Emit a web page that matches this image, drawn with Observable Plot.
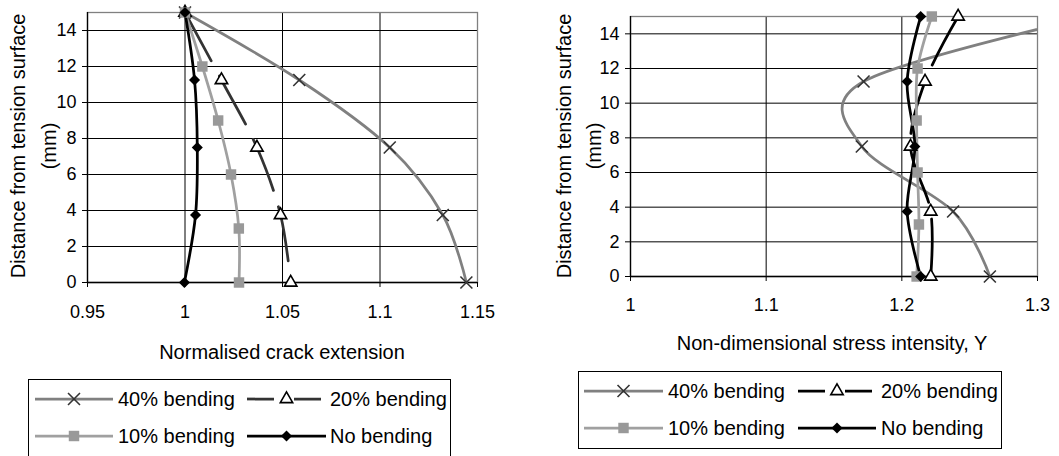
<!DOCTYPE html>
<html><head><meta charset="utf-8">
<script src="https://cdn.jsdelivr.net/npm/d3@7"></script>
<script src="https://cdn.jsdelivr.net/npm/@observablehq/plot@0.6"></script>
<style>
body{margin:0;background:#fff;}
#wrap{position:relative;width:1059px;height:456px;overflow:hidden;font-family:"Liberation Sans",Arial,sans-serif;color:#000;}
.panel{position:absolute;top:0;}
.lbl{position:absolute;white-space:nowrap;font-size:20px;line-height:1;}
.rot{transform:translate(-50%,-50%) rotate(-90deg);}
.ctr{transform:translate(-50%,-50%);}
#legend{position:absolute;left:0;top:0;}
</style></head><body><div id="wrap"></div>
<script>
// ---------- data ----------
const seriesNames = ["40% bending", "20% bending", "10% bending", "No bending"];
const depthCoarse = [15, 11.25, 7.5, 3.75, 0];      // used by 40%, 20%, no bending
const depthFine = [15, 12, 9, 6, 3, 0];             // used by 10%

// Left chart: normalised crack extension
const crack40 = [1.0, 1.0586, 1.105, 1.1322, 1.1443];
const crack20 = [1.0, 1.0187, 1.0369, 1.049, 1.0542];
const crack10 = [1.0, 1.0089, 1.017, 1.0236, 1.0276, 1.0277];
const crack0  = [1.0, 1.0049, 1.0063, 1.0054, 0.9997];

// Right chart: non-dimensional stress intensity Y
const stress40 = [1.34, 1.1718, 1.1705, 1.2378, 1.2649];
const stress20 = [1.2415, 1.2171, 1.2064, 1.2213, 1.2213];
const stress10 = [1.2221, 1.2116, 1.2109, 1.2116, 1.2126, 1.2109];
const stress0  = [1.2139, 1.2039, 1.2096, 1.2039, 1.2139];

const leftXTicks = [0.95, 1, 1.05, 1.1, 1.15];
const rightXTicks = [1, 1.1, 1.2, 1.3];
const yTicks = [0, 2, 4, 6, 8, 10, 12, 14];
const leftXTitle = "Normalised crack extension";
const rightXTitle = "Non-dimensional stress intensity, Y";
const yTitleLine1 = "Distance from tension surface";
const yTitleLine2 = "(mm)";

// ---------- helpers ----------
const rows = (xs, ys) => xs.map((x, i) => ({x, y: ys[i]}));
const wrap = document.getElementById("wrap");

function styleFor(name, panel) {
  switch (name) {
    case "40% bending": return {stroke: "#808080", dash: null, symbol: "times", mFill: "none", mStroke: "#333", r: 5.5};
    case "20% bending": return {stroke: panel === "left" ? "#333333" : "#000", dash: "55,17", symbol: "triangle", mFill: "#fff", mStroke: "#000", r: 4.6};
    case "10% bending": return {stroke: "#a0a0a0", dash: null, symbol: "square", mFill: "#999", mStroke: "none", r: 5.9};
    default: return {stroke: "#000", dash: null, symbol: "diamond2", mFill: "#000", mStroke: "none", r: 5};
  }
}

function seriesMarks(list, panel, xDomain) {
  const marks = [];
  for (const [name, data] of list) {
    const s = styleFor(name, panel);
    marks.push(Plot.line(data, {x: "x", y: "y", stroke: s.stroke, strokeWidth: 2.75,
      strokeDasharray: s.dash ?? undefined, curve: "cardinal", clip: panel === "right"}));
  }
  for (const [name, data] of list) {
    const s = styleFor(name, panel);
    marks.push(Plot.dot(data, {x: "x", y: "y", symbol: s.symbol, r: s.r, fill: s.mFill,
      stroke: s.mStroke, strokeWidth: 1.6,
      filter: d => d.x >= xDomain[0] && d.x <= xDomain[1]}));
  }
  return marks;
}

function makePanel({left, width, height, mL, mR, mT, mB, xDomain, xTicks, xGrid, padX, list, panel}) {
  const chart = Plot.plot({
    width, height, marginLeft: mL, marginRight: mR, marginTop: mT, marginBottom: mB,
    style: {fontFamily: "'Liberation Sans', Arial, sans-serif", fontSize: "18px", color: "#000", background: "transparent", overflow: "visible"},
    x: {domain: xDomain},
    y: {domain: [0, 15]},
    marks: [
      Plot.ruleY(yTicks.filter(d => d > 0), {stroke: "#000", strokeWidth: 1}),
      Plot.ruleX(xGrid, {stroke: "#000", strokeWidth: 1}),
      Plot.frame({stroke: "#808080", strokeWidth: 1.3}),
      Plot.ruleY([0], {stroke: "#000", strokeWidth: 1.3}),
      Plot.ruleX([xDomain[0]], {stroke: "#000", strokeWidth: 1.3}),
      Plot.axisX(xTicks, {tickSize: 5, tickPadding: padX, tickFormat: d => String(d), label: null, fontSize: 18, stroke: "#000"}),
      Plot.axisY(yTicks, {tickSize: 5, tickPadding: 6, tickFormat: d => String(d), label: null, fontSize: 18, stroke: "#000"}),
      ...seriesMarks(list, panel, xDomain)
    ]
  });
  chart.classList.add("panel");
  chart.style.left = left + "px";
  wrap.appendChild(chart);
}

makePanel({
  left: 0, width: 530, height: 330, mL: 87, mR: 53, mT: 12, mB: 48,
  xDomain: [0.95, 1.15], xTicks: leftXTicks, xGrid: [1, 1.05, 1.1], padX: 18, panel: "left",
  list: [
    [seriesNames[0], rows(crack40, depthCoarse)],
    [seriesNames[1], rows(crack20, depthCoarse)],
    [seriesNames[2], rows(crack10, depthFine)],
    [seriesNames[3], rows(crack0, depthCoarse)]
  ]
});

makePanel({
  left: 530, width: 529, height: 330, mL: 100, mR: 22, mT: 16, mB: 54,
  xDomain: [1, 1.3], xTicks: rightXTicks, xGrid: [1.1, 1.2], padX: 17, panel: "right",
  list: [
    [seriesNames[0], rows(stress40, depthCoarse)],
    [seriesNames[1], rows(stress20, depthCoarse)],
    [seriesNames[2], rows(stress10, depthFine)],
    [seriesNames[3], rows(stress0, depthCoarse)]
  ]
});

// ---------- titles ----------
function label(text, x, y, cls) {
  const d = document.createElement("div");
  d.className = "lbl " + cls;
  d.style.left = x + "px";
  d.style.top = y + "px";
  d.textContent = text;
  wrap.appendChild(d);
}
label(leftXTitle, 282, 352, "ctr");
label(rightXTitle, 832, 343, "ctr");
label(yTitleLine1, 18, 146, "rot");
label(yTitleLine2, 49, 146, "rot");
label(yTitleLine1, 564, 146, "rot");
label(yTitleLine2, 594, 146, "rot");

// ---------- legends ----------
const svg = d3.select(wrap).append("svg").attr("id", "legend").attr("width", 1059).attr("height", 456)
  .style("font-family", "'Liberation Sans', Arial, sans-serif").style("font-size", "20px");
const symbolMap = {times: d3.symbolTimes, triangle: d3.symbolTriangle, square: d3.symbolSquare, diamond2: d3.symbolDiamond2};

function legend(panel, box, cols, rowsY) {
  svg.append("rect").attr("x", box[0]).attr("y", box[1]).attr("width", box[2]).attr("height", box[3])
    .attr("fill", "#fff").attr("stroke", "#000").attr("stroke-width", 1);
  seriesNames.forEach((name, i) => {
    const col = cols[i % 2], y = rowsY[Math.floor(i / 2)];
    const s = styleFor(name, panel);
    svg.append("line").attr("x1", col.x1).attr("x2", col.x2).attr("y1", y).attr("y2", y)
      .attr("stroke", s.stroke).attr("stroke-width", 2.75)
      .attr("stroke-dasharray", s.dash ? "27,20" : null);
    svg.append("path").attr("d", d3.symbol(symbolMap[s.symbol], Math.PI * s.r * s.r)())
      .attr("transform", `translate(${(col.x1 + col.x2) / 2},${y})`)
      .attr("fill", s.mFill).attr("stroke", s.mStroke).attr("stroke-width", 1.6);
    svg.append("text").attr("x", col.tx).attr("y", y).attr("dy", "0.35em").text(name);
  });
}
legend("left", [28.5, 379.5, 422, 100],
  [{x1: 35, x2: 113, tx: 118}, {x1: 247, x2: 326, tx: 330}], [399, 436]);
legend("right", [578.5, 371.5, 423, 77],
  [{x1: 584, x2: 663, tx: 668}, {x1: 798, x2: 876, tx: 881}], [391, 428]);
</script></body></html>
